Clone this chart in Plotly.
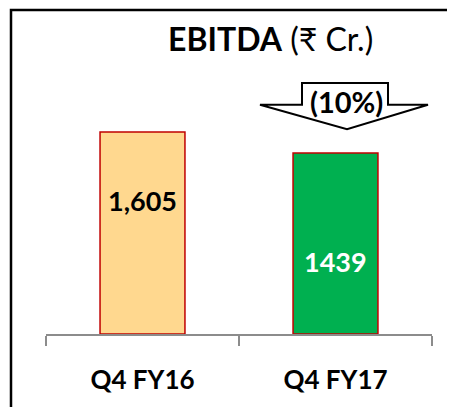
import plotly.graph_objects as go

# data
periods = ["Q4 FY16", "Q4 FY17"]
ebitda = [1605, 1439]
value_labels = ["1,605", "1439"]
change_label = "(10%)"

bar_colors = ["#FFD88F", "#00B050"]
label_colors = ["black", "white"]
label_pos = [0.66, 0.40]  # fraction of the bar height where the label sits

# the page puts the figure 8px in from the top-left corner
OFF = 8
W, H = 455 - OFF, 407 - OFF
L, R, T, B = 46 - OFF, 23, 40 - OFF, 67
plot_h = H - T - B
px_per_unit = 206 / 1605
ymax = plot_h / px_per_unit


def to_paper(px, py):
    """screen pixel position -> paper coords"""
    return (px - OFF - L) / (W - L - R), (H - B - (py - OFF)) / plot_h


fig = go.Figure()
fig.add_trace(go.Bar(
    x=periods,
    y=ebitda,
    marker=dict(color=bar_colors, line=dict(color="#C00000", width=1.5)),
    width=0.44,
    hoverinfo="skip",
))

# value labels inside the bars
for p, v, t, c, f in zip(periods, ebitda, value_labels, label_colors, label_pos):
    fig.add_annotation(
        x=p, y=v * f, text=f"<b>{t}</b>", showarrow=False,
        font=dict(size=27, color=c), yanchor="middle",
    )

# title
tx, ty = to_paper(270, 38)
fig.add_annotation(
    xref="paper", yref="paper", x=tx, y=ty, text="<b>EBITDA</b> (₹ Cr.)",
    showarrow=False, font=dict(size=32, color="black"),
    xanchor="center", yanchor="middle",
)

# down arrow with change
pts = [(302, 84), (388, 84), (388, 106), (428, 106), (347, 131), (260, 106), (302, 106)]
path = "M " + " L ".join(f"{to_paper(x, y)[0]},{to_paper(x, y)[1]}" for x, y in pts) + " Z"
fig.add_shape(type="path", xref="paper", yref="paper", path=path,
              line=dict(color="black", width=2), fillcolor="white")
cx, cy = to_paper(346, 103)
fig.add_annotation(xref="paper", yref="paper", x=cx, y=cy, text=f"<b>{change_label}</b>",
                   showarrow=False, font=dict(size=29, color="black"),
                   xanchor="center", yanchor="middle")

# frame around the chart
x0, y0 = to_paper(11, OFF + 1.5)
x1, y1 = to_paper(480, 430)
fig.add_shape(type="rect", xref="paper", yref="paper", x0=x0, y0=y1, x1=x1, y1=y0,
              line=dict(color="black", width=2.5))

fig.update_layout(
    width=W, height=H,
    margin=dict(l=L, r=R, t=T, b=B),
    paper_bgcolor="white", plot_bgcolor="white",
    font=dict(family="Lato, 'Noto Sans', sans-serif", color="black"),
    showlegend=False,
    xaxis=dict(
        range=[-0.5, 1.5],
        tickmode="array", tickvals=periods,
        ticktext=[f"<b>{p}</b>" for p in periods],
        tickfont=dict(size=26, color="black"),
        showline=True, linecolor="#8C8C8C", linewidth=1.5,
        ticks="outside", tickson="boundaries", ticklen=10, tickcolor="#8C8C8C", tickwidth=1.5,
        ticklabelstandoff=22,
        showgrid=False, fixedrange=True,
    ),
    yaxis=dict(range=[0, ymax], visible=False, showgrid=False, zeroline=False, fixedrange=True),
)

fig.write_html("out.html")
